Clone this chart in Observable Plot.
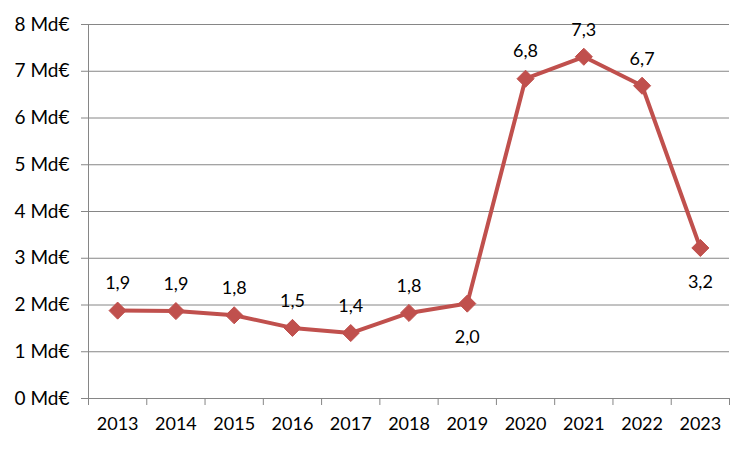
<!DOCTYPE html>
<html><head><meta charset="utf-8">
<script src="https://cdn.jsdelivr.net/npm/d3@7"></script>
<script src="https://cdn.jsdelivr.net/npm/@observablehq/plot@0.6"></script>
<style>body{margin:0;background:#fff;} svg{display:block;}</style>
</head><body><div id="chart"></div>
<script>
const years = [2013, 2014, 2015, 2016, 2017, 2018, 2019, 2020, 2021, 2022, 2023];
const values = [1.88, 1.87, 1.78, 1.51, 1.40, 1.83, 2.03, 6.84, 7.31, 6.69, 3.22];
const labelBelow = [false, false, false, false, false, false, true, false, false, false, true];
const yTicks = [0, 1, 2, 3, 4, 5, 6, 7, 8];

const data = years.map((y, i) => ({year: y, value: values[i], below: labelBelow[i],
  label: values[i].toFixed(1).replace(".", ",")}));
const bounds = [years[0] - 0.5, ...years.map(y => y + 0.5)];
const red = "#C0504D", grid = "#868686", font = "Lato, 'Open Sans', sans-serif";
const fs = 18;

const chart = Plot.plot({
  width: 752, height: 452,
  marginLeft: 88, marginRight: 23, marginTop: 24, marginBottom: 54,
  style: {fontFamily: font, fontSize: fs + "px", color: "#000", background: "#fff"},
  x: {domain: [years[0] - 0.5, years[years.length - 1] + 0.5], axis: null},
  y: {domain: [0, 8], axis: null},
  marks: [
    Plot.gridY(yTicks, {stroke: grid, strokeOpacity: 1, strokeWidth: 1}),
    Plot.axisY(yTicks, {tickSize: 7, tickPadding: 12, stroke: grid, strokeOpacity: 1,
      tickFormat: d => `${d} Md€`, fontSize: 19, label: null}),
    Plot.ruleX([bounds[0]], {stroke: grid, y1: 0, y2: 8}),
    Plot.axisX(bounds, {tickSize: 7, stroke: grid, strokeOpacity: 1, tickFormat: () => "", label: null}),
    Plot.axisX(years, {tickSize: 0, tickPadding: 19, tickFormat: d => String(d), fontSize: fs, label: null}),
    Plot.line(data, {x: "year", y: "value", stroke: red, strokeWidth: 4}),
    Plot.dot(data, {x: "year", y: "value", symbol: "diamond2", r: 7.7, fill: red, stroke: red, strokeWidth: 1}),
    Plot.text(data, {x: "year", y: "value", text: "label", fontSize: fs, fill: "#000",
      filter: d => !d.below, dy: -27}),
    Plot.text(data, {x: "year", y: "value", text: "label", fontSize: fs, fill: "#000",
      filter: d => d.below, dy: 34})
  ]
});
document.getElementById("chart").appendChild(chart);
</script></body></html>
